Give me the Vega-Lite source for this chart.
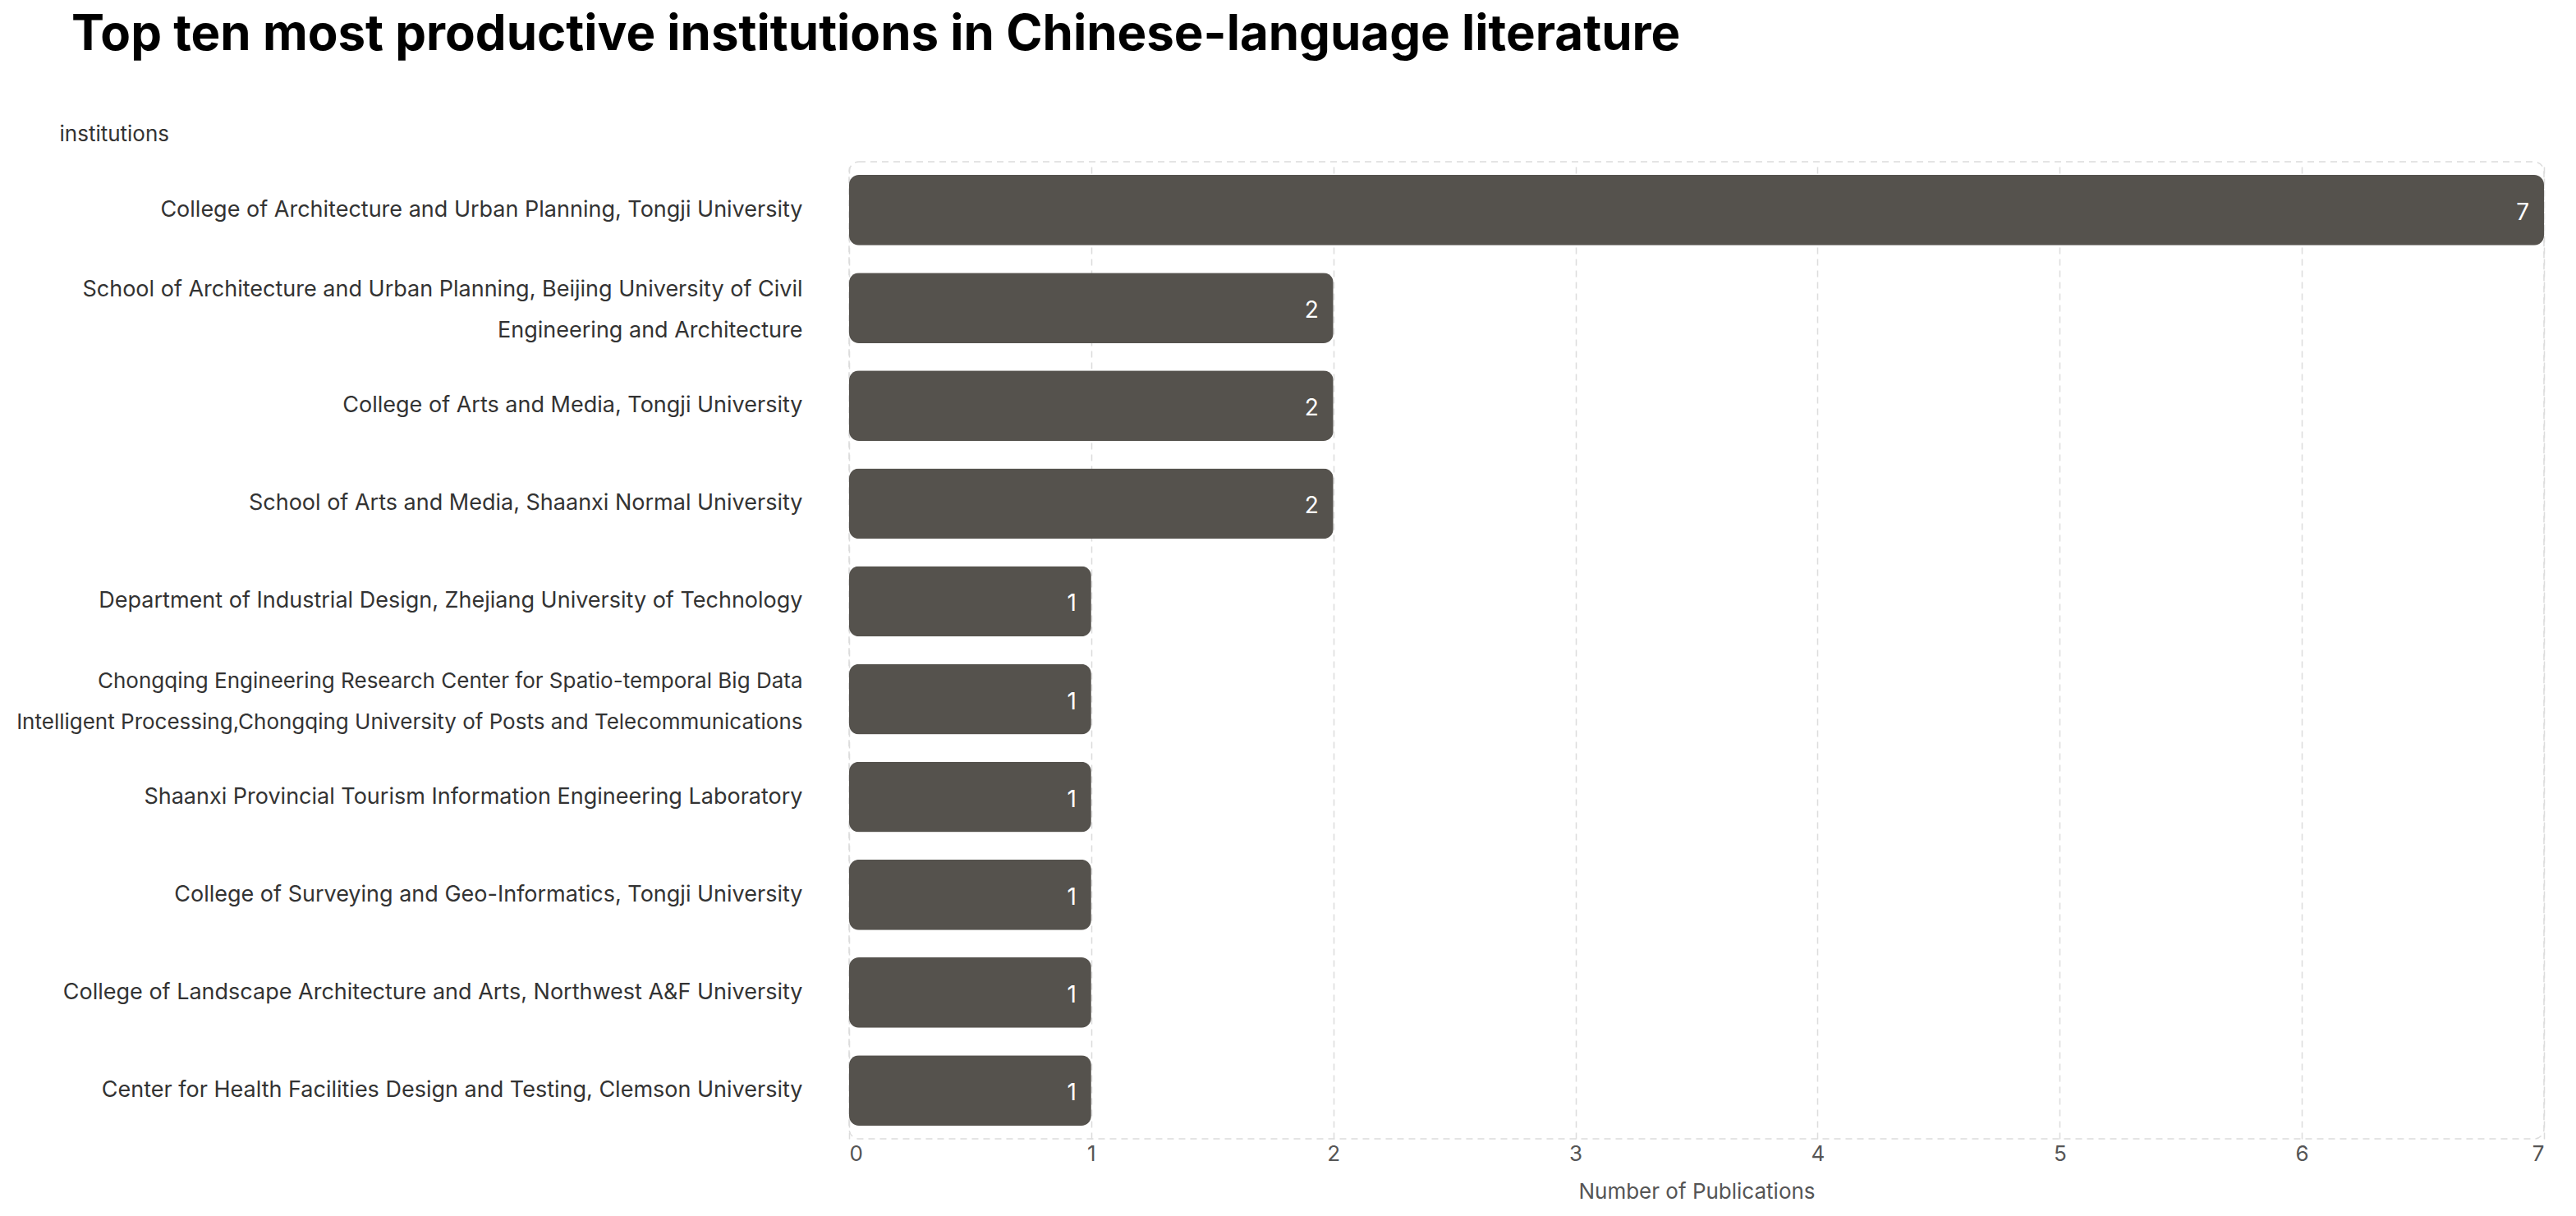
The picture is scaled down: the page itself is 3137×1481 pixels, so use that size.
{
  "$schema": "https://vega.github.io/schema/vega-lite/v6.json",
  "autosize": {"type": "none"},
  "width": 2064,
  "height": 1190,
  "padding": {"left": 1034, "top": 197, "right": 39, "bottom": 94},
  "background": "#ffffff",
  "title": {
    "text": "Top ten most productive institutions in Chinese-language literature",
    "anchor": "start",
    "frame": "group",
    "dx": -947,
    "font": "Inter",
    "fontSize": 60,
    "fontWeight": "bold",
    "color": "#000000",
    "offset": 76
  },
  "config": {
    "view": {"stroke": "#dcdcdc", "strokeDash": [8, 6], "strokeWidth": 1.5, "cornerRadius": 12},
    "font": "Inter"
  },
  "data": {
    "values": [
      {"institution": "College of Architecture and Urban Planning, Tongji University", "count": 7},
      {"institution": "School of Architecture and Urban Planning, Beijing University of Civil|Engineering and Architecture", "count": 2},
      {"institution": "College of Arts and Media, Tongji University", "count": 2},
      {"institution": "School of Arts and Media, Shaanxi Normal University", "count": 2},
      {"institution": "Department of Industrial Design, Zhejiang University of Technology", "count": 1},
      {"institution": "Chongqing Engineering Research Center for Spatio-temporal Big Data|Intelligent Processing,Chongqing University of Posts and Telecommunications", "count": 1},
      {"institution": "Shaanxi Provincial Tourism Information Engineering Laboratory", "count": 1},
      {"institution": "College of Surveying and Geo-Informatics, Tongji University", "count": 1},
      {"institution": "College of Landscape Architecture and Arts, Northwest A&F University", "count": 1},
      {"institution": "Center for Health Facilities Design and Testing, Clemson University", "count": 1}
    ]
  },
  "encoding": {
    "y": {
      "field": "institution",
      "type": "nominal",
      "sort": null,
      "scale": {"paddingInner": 0.28, "paddingOuter": 0.135},
      "axis": {
        "title": "institutions",
        "titleAngle": 0,
        "titleX": -962,
        "titleY": -34,
        "titleAlign": "left",
        "titleBaseline": "middle",
        "titleFont": "Inter",
        "titleFontSize": 26,
        "titleFontWeight": "normal",
        "titleColor": "#333333",
        "labelExpr": "split(datum.value, '|')",
        "labelLimit": 1100,
        "labelFont": "Inter",
        "labelFontSize": {"condition": {"test": "indexof(datum.value, 'Chongqing') >= 0", "value": 26}, "value": 27},
        "labelColor": "#333333",
        "labelLineHeight": 50,
        "labelOffset": {"condition": {"test": "indexof(datum.value, '|') >= 0", "value": -22}, "value": 0},
        "labelPadding": 57,
        "ticks": false,
        "domain": false,
        "grid": false
      }
    },
    "x": {
      "field": "count",
      "type": "quantitative",
      "scale": {"domain": [0, 7], "nice": false},
      "axis": {
        "title": "Number of Publications",
        "values": [0, 1, 2, 3, 4, 5, 6, 7],
        "format": "d",
        "labelFont": "Inter",
        "labelFontSize": 26,
        "labelColor": "#555555",
        "labelPadding": 5,
        "titleFont": "Inter",
        "titleFontSize": 26,
        "titleFontWeight": "normal",
        "titleColor": "#555555",
        "titlePadding": 20,
        "ticks": false,
        "domain": false,
        "grid": true,
        "gridColor": "#dcdcdc",
        "gridDash": [8, 6],
        "gridWidth": 1.5
      }
    }
  },
  "layer": [
    {"mark": {"type": "bar", "color": "#55524d", "cornerRadius": 12}},
    {
      "mark": {"type": "text", "align": "right", "baseline": "middle", "dx": -18, "dy": 4, "color": "#ffffff", "font": "Inter", "fontSize": 28},
      "encoding": {"text": {"field": "count", "type": "quantitative"}}
    }
  ]
}
